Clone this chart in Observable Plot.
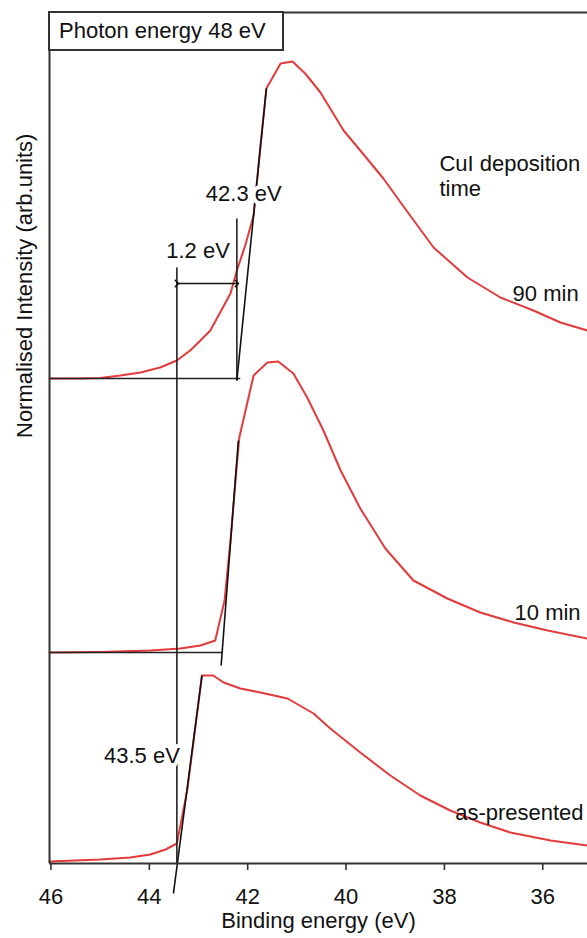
<!DOCTYPE html>
<html>
<head>
<meta charset="utf-8">
<script src="https://cdn.jsdelivr.net/npm/d3@7"></script>
<script src="https://cdn.jsdelivr.net/npm/@observablehq/plot@0.6"></script>
<style>
  body { margin: 0; background: white; }
  #wrap { position: relative; width: 587px; height: 938px; }
  #box { position: absolute; left: 48px; top: 11px; width: 236px; height: 40px; box-sizing: border-box;
         border: 2px solid #333; background: white; font: 22px 'Liberation Sans', Arial, sans-serif;
         line-height: 35px; padding-left: 9px; color: #111; white-space: nowrap; }
</style>
</head>
<body>
<div id="wrap"><div id="chart"></div><div id="box">Photon energy 48 eV</div></div>
<script>
// Binding energy (eV) and normalised intensity (arb. units, offset-stacked)
const energy90 = [46.03,45.40,45.00,44.59,44.18,43.78,43.44,43.17,42.96,42.76,42.56,42.35,42.22,42.05,41.88,41.75,41.62,41.33,41.09,40.83,40.52,40.05,39.71,39.24,38.89,38.22,37.53,36.86,36.19,35.64,35.09];
const int90    = [4.85,4.85,4.855,4.88,4.91,4.96,5.03,5.13,5.23,5.33,5.51,5.70,5.93,6.18,6.48,7.13,7.75,8.00,8.02,7.90,7.71,7.33,7.13,6.85,6.61,6.16,5.86,5.66,5.53,5.41,5.33];

const energy10 = [46.03,45.00,43.98,43.37,42.96,42.66,42.47,42.35,42.23,42.17,41.88,41.60,41.38,41.07,40.79,40.46,40.11,39.71,39.20,38.63,37.94,37.27,36.59,35.90,35.09];
const int10    = [2.11,2.115,2.13,2.15,2.18,2.23,2.63,3.23,3.93,4.26,4.88,5.01,5.02,4.90,4.66,4.33,3.93,3.55,3.15,2.83,2.65,2.51,2.41,2.33,2.25];

const energyAs = [46.03,45.00,44.39,43.98,43.67,43.44,43.23,43.06,42.93,42.70,42.49,42.15,41.74,41.19,40.66,40.32,39.71,39.10,38.49,37.88,37.27,36.66,35.84,35.09];
const intAs    = [0.02,0.04,0.06,0.09,0.14,0.20,0.73,1.38,1.88,1.88,1.81,1.75,1.71,1.65,1.50,1.35,1.11,0.88,0.68,0.53,0.41,0.31,0.23,0.18];

const seriesNames = ["90 min", "10 min", "as-presented"];
const xTicks = [46, 44, 42, 40, 38, 36];
const xDomain = [46.03, 35.09];
const yDomain = [0, 8.51];

// Onset construction (tangent lines, baselines, markers)
const tangents = [
  {x1: 42.22, y1: 4.83, x2: 41.62, y2: 7.75},
  {x1: 42.54, y1: 1.98, x2: 42.19, y2: 4.23},
  {x1: 43.51, y1: -0.30, x2: 42.93, y2: 1.88}
];
const baselines = [
  {x1: 46.03, x2: 42.15, y: 4.85},
  {x1: 46.03, x2: 42.515, y: 2.11}
];
const markers = [
  {x: 42.22, y1: 4.83, y2: 6.45},
  {x: 43.44, y1: 0, y2: 5.96}
];
const shift = [{x1: 43.44, x2: 42.22, y: 5.80}];

const annotations = [
  {x: 42.08, y: 6.70, text: "42.3 eV", halo: true},
  {x: 43.01, y: 6.13, text: "1.2 eV", halo: false},
  {x: 44.15, y: 1.08, text: "43.5 eV", halo: true}
];
const seriesLabels = [
  {x: 35.27, y: 5.70, text: seriesNames[0]},
  {x: 35.23, y: 2.51, text: seriesNames[1]},
  {x: 35.17, y: 0.51, text: seriesNames[2]}
];
const legendTitle = [{x: 38.10, y: 6.885, text: "CuI deposition\ntime"}];

const toRows = (xs, ys) => xs.map((x, i) => ({x, y: ys[i]}));
const red = "#e33b3b";
const font = 22;

const chart = Plot.plot({
  width: 587,
  height: 938,
  marginTop: 12,
  marginBottom: 75,
  marginLeft: 49,
  marginRight: 0,
  style: {fontFamily: "'Liberation Sans', Arial, sans-serif", fontSize: "22px", background: "white", color: "#111"},
  x: {domain: xDomain, axis: null},
  y: {domain: yDomain, axis: null},
  marks: [
    Plot.line(toRows(energy90, int90), {x: "x", y: "y", stroke: red, strokeWidth: 2}),
    Plot.line(toRows(energy10, int10), {x: "x", y: "y", stroke: red, strokeWidth: 2}),
    Plot.line(toRows(energyAs, intAs), {x: "x", y: "y", stroke: red, strokeWidth: 2}),
    Plot.link(baselines, {x1: "x1", x2: "x2", y1: "y", y2: "y", stroke: "#222", strokeWidth: 1.6}),
    Plot.link(markers, {x1: "x", x2: "x", y1: "y1", y2: "y2", stroke: "#222", strokeWidth: 1.6}),
    Plot.link(tangents, {x1: "x1", y1: "y1", x2: "x2", y2: "y2", stroke: "#111", strokeWidth: 1.6}),
    Plot.link(shift, {x1: "x1", x2: "x2", y1: "y", y2: "y", stroke: "#111", strokeWidth: 1.6, markerStart: "arrow", markerEnd: "arrow"}),
    Plot.ruleY([yDomain[0]], {stroke: "#333", strokeWidth: 2}),
    Plot.ruleY([yDomain[1]], {stroke: "#333", strokeWidth: 2}),
    Plot.ruleX([xDomain[0]], {stroke: "#333", strokeWidth: 2}),
    Plot.text(annotations.filter(d => d.halo), {x: "x", y: "y", text: "text", fontSize: font, fill: "#111", stroke: "white", strokeWidth: 8}),
    Plot.text(annotations.filter(d => !d.halo), {x: "x", y: "y", text: "text", fontSize: font, fill: "#111"}),
    Plot.text(seriesLabels, {x: "x", y: "y", text: "text", textAnchor: "end", fontSize: font, fill: "#111"}),
    Plot.text(legendTitle, {x: "x", y: "y", text: "text", textAnchor: "start", fontSize: font, lineHeight: 1.14, fill: "#111"}),
    Plot.axisX(xTicks, {anchor: "bottom", tickSize: 7, tickPadding: 18, fontSize: font, stroke: "#333", strokeWidth: 1.6, fill: "#111", label: null}),
    Plot.text(["Binding energy (eV)"], {frameAnchor: "bottom", dy: 64, fontSize: font, fill: "#111"}),
    Plot.text(["Normalised Intensity (arb.units)"], {frameAnchor: "left", rotate: -90, dx: -25, fontSize: font, fill: "#111"})
  ]
});
document.getElementById("chart").appendChild(chart);
</script>
</body>
</html>
